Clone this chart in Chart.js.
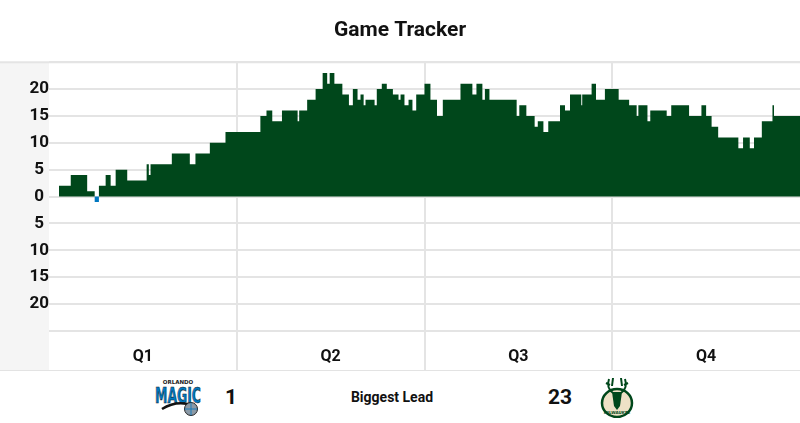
<!DOCTYPE html>
<html>
<head>
<meta charset="utf-8">
<script src="https://cdn.jsdelivr.net/npm/chart.js@4.4.1/dist/chart.umd.min.js"></script>
<style>
  body { margin: 0; background: #fff; font-family: Roboto, "Noto Sans", sans-serif; color: #111; }
  #wrap { position: relative; width: 800px; height: 423px; overflow: hidden; }
  #chartBox { position: relative; width: 800px; height: 370px; }
  #footer { position: relative; width: 800px; height: 52px; border-top: 1px solid #e3e3e3; }
  #footer .item { position: absolute; top: 0; height: 52px; display: flex; align-items: center; justify-content: center; transform: translateX(-50%); font-weight: bold; }
  .num { font-size: 21px; }
  .lbl { font-size: 14px; }
</style>
</head>
<body>
<div id="wrap">
  <div id="chartBox"><canvas id="tracker"></canvas></div>
  <div id="footer">
    <div class="item" style="left:178px">
      <svg width="48" height="38" viewBox="0 0 48 38">
        <text x="24" y="6" font-size="5.5" font-weight="bold" text-anchor="middle" fill="#222" font-family="DejaVu Sans">ORLANDO</text>
        <text x="1" y="25" font-size="21" font-weight="bold" fill="#0077C0" stroke="#1b1b1b" stroke-width="0.6" textLength="46" lengthAdjust="spacingAndGlyphs" font-family="DejaVu Sans">MAGIC</text>
        <path d="M8 31 Q22 22 38 27" stroke="#111" stroke-width="2.5" fill="none"/>
        <circle cx="37" cy="31" r="6.5" fill="#8a99a6" stroke="#222" stroke-width="1"/>
        <path d="M30.5 31 H43.5 M37 24.5 V37.5" stroke="#0077C0" stroke-width="0.8"/>
      </svg>
    </div>
    <div class="item num" style="left:231px">1</div>
    <div class="item lbl" style="left:392px">Biggest Lead</div>
    <div class="item num" style="left:560px">23</div>
    <div class="item" style="left:617px">
      <svg width="34" height="42" viewBox="0 0 34 42">
        <ellipse cx="17" cy="27" rx="15" ry="14" fill="#EEE1C6" stroke="#00471B" stroke-width="2.5"/>
        <path d="M9 3 Q6 12 13 17 M25 3 Q28 12 21 17 M6 7 L10 9 M28 7 L24 9 M13 2 L12 10 M21 2 L22 10" stroke="#00471B" stroke-width="2" fill="none"/>
        <path d="M12 16 L22 16 L20 30 L17 34 L14 30 Z" fill="#00471B"/>
        <text x="17" y="38" font-size="4" font-weight="bold" text-anchor="middle" fill="#00471B" font-family="DejaVu Sans">MILWAUKEE</text>
      </svg>
    </div>
  </div>
</div>
<script>
// Score margin (Bucks minus Magic) from game clock, in elapsed minutes.
// Each entry holds the margin from that moment until the next entry.
const leadMinutes = [
  0, 0.64, 1.39, 2.44, 2.92, 3.19, 3.62, 3.94, 4.26, 5.00,
  6.24, 6.38, 6.49, 7.85, 9.00, 9.36, 10.28, 11.28, 13.51, 13.90,
  14.27, 14.89, 15.89, 15.99, 16.50, 17.04, 17.49, 17.78, 17.94, 18.24,
  18.75, 19.17, 19.42, 19.72, 19.91, 20.11, 20.23, 20.81, 20.95, 21.27,
  21.59, 21.98, 22.34, 22.47, 22.72, 22.98, 23.23, 23.47, 24.00, 24.38,
  24.80, 25.17, 26.30, 27.06, 27.32, 27.70, 27.86, 28.15, 29.89, 30.06,
  30.51, 31.04, 31.24, 31.60, 31.91, 32.66, 32.98, 33.30, 34.02, 34.08,
  34.68, 34.96, 35.53, 36.41, 37.08, 37.56, 37.67, 38.25, 38.43, 39.48,
  39.77, 40.91, 41.70, 42.00, 42.35, 42.77, 44.06, 44.36, 44.79, 45.06,
  45.56, 46.24, 46.34, 48
];
const leadMargins = [
  0, 2, 4, 1, -1, 2, 4, 2, 5, 3,
  6, 4, 6, 8, 6, 8, 10, 12, 15, 16,
  14, 16, 14, 16, 18, 20, 23, 21, 23, 21,
  19, 17, 20, 18, 19, 17, 18, 17, 20, 21,
  20, 19, 18, 19, 17, 18, 16, 19, 21, 18,
  15, 18, 21, 19, 21, 18, 20, 18, 15, 17,
  15, 13, 14, 12, 14, 17, 16, 19, 17, 19,
  21, 18, 20, 18, 17, 15, 17, 14, 16, 15,
  17, 15, 17, 15, 13, 11, 9, 11, 9, 11,
  14, 17, 15, 15
];
const quarterLabels = ['Q1', 'Q2', 'Q3', 'Q4'];
const yTicks = [-25, -20, -15, -10, -5, 0, 5, 10, 15, 20, 25];

const GRID = '#e4e4e4';
const BUCKS = '#00471B';
const MAGIC = '#0077C0';

// grey strip behind the y labels plus the rule under the title
const sidePanel = {
  id: 'sidePanel',
  beforeDraw(chart) {
    const { ctx, chartArea, width, height } = chart;
    ctx.save();
    ctx.fillStyle = '#f5f5f5';
    ctx.fillRect(0, chartArea.top, chartArea.left, height - chartArea.top);
    ctx.strokeStyle = GRID;
    ctx.lineWidth = 2;
    ctx.beginPath();
    ctx.moveTo(0, chartArea.top);
    ctx.lineTo(width, chartArea.top);
    ctx.stroke();
    ctx.restore();
  }
};

// split the margin into the Bucks-ahead part and the Magic-ahead part
function leadSeries(pick, color) {
  return {
    data: leadMinutes.map((t, i) => ({ x: t, y: pick(leadMargins[i]) })),
    stepped: true,
    borderWidth: 0,
    borderColor: 'rgba(0,0,0,0)',
    backgroundColor: color,
    pointRadius: 0,
    fill: 'origin'
  };
}

new Chart(document.getElementById('tracker'), {
  type: 'line',
  data: {
    datasets: [
      leadSeries(v => Math.max(v, 0), BUCKS),
      leadSeries(v => Math.min(v, 0), MAGIC)
    ]
  },
  options: {
    responsive: true,
    maintainAspectRatio: false,
    animation: false,
    layout: { padding: 0 },
    plugins: {
      legend: { display: false },
      tooltip: { enabled: false },
      title: {
        display: true,
        text: 'Game Tracker',
        color: '#111',
        font: { family: 'Roboto', size: 21, weight: 'bold' },
        padding: { top: 18, bottom: 19 }
      }
    },
    scales: {
      x: {
        type: 'linear',
        min: 0,
        max: 48,
        afterFit: s => { s.height = 39; },
        border: { display: false },
        grid: {
          lineWidth: 2,
          tickLength: 39,
          color: c => (c.tick && c.tick.value % 12 === 0 && c.tick.value > 0 && c.tick.value < 48) ? GRID : 'rgba(0,0,0,0)'
        },
        ticks: {
          stepSize: 6,
          autoSkip: false,
          maxRotation: 0,
          padding: -23,
          color: '#111',
          font: { family: 'Roboto', size: 16, weight: 'bold' },
          callback: v => (v % 12 === 6) ? quarterLabels[(v - 6) / 12] : ''
        }
      },
      y: {
        min: -25,
        max: 25,
        afterFit: s => { s.width = 49; },
        afterBuildTicks: s => { s.ticks = yTicks.map(v => ({ value: v })); },
        border: { display: false },
        grid: { color: GRID, lineWidth: 2, drawTicks: false },
        ticks: {
          crossAlign: 'center',
          padding: 0,
          color: '#111',
          font: { family: 'Roboto', size: 17, weight: 'bold' },
          callback: v => Math.abs(v) === 25 ? '' : String(Math.abs(v))
        }
      }
    }
  },
  plugins: [sidePanel]
});
</script>
</body>
</html>
